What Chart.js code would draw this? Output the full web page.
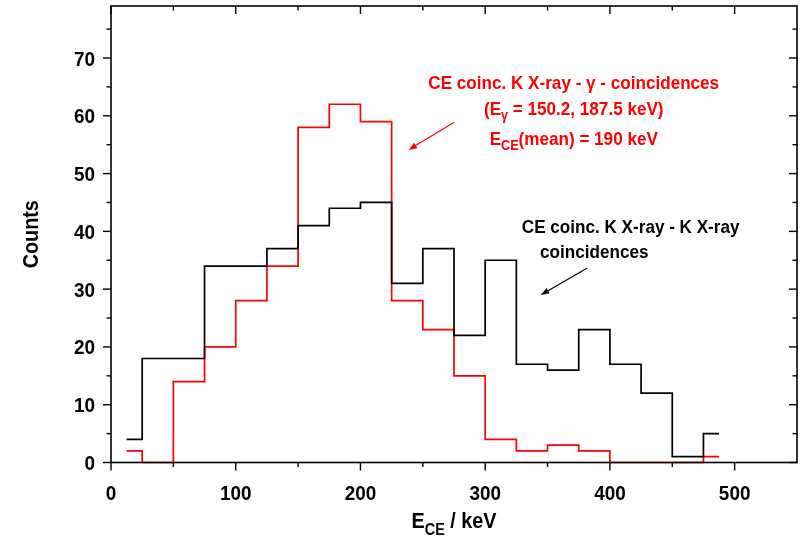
<!DOCTYPE html>
<html>
<head>
<meta charset="utf-8">
<script src="https://cdn.jsdelivr.net/npm/chart.js@4.4.0/dist/chart.umd.min.js"></script>
<style>
  html, body { margin: 0; padding: 0; background: #fff; }
  #wrap { width: 807px; height: 538px; }
</style>
</head>
<body>
<div id="wrap"><canvas id="chart" width="807" height="538"></canvas></div>
<script>
// bin centres in keV (25 keV bins)
const binCentres = [12.5, 37.5, 62.5, 87.5, 112.5, 137.5, 162.5, 187.5, 212.5, 237.5,
                    262.5, 287.5, 312.5, 337.5, 362.5, 387.5, 412.5, 437.5, 462.5, 487.5];
// CE coinc. K X-ray - K X-ray (black)
const kxKxCounts = [4, 18, 18, 34, 34, 37, 41, 44, 45, 31, 37, 22, 35, 17, 16, 23, 17, 12, 1, 5];
// CE coinc. K X-ray - gamma (red)
const kxGammaCounts = [2, 0, 14, 20, 28, 34, 58, 62, 59, 28, 23, 15, 4, 2, 3, 2, 0, 0, 0, 1];

const xMajorTicks = [0, 100, 200, 300, 400, 500];
const xMinorTicks = [50, 150, 250, 350, 450];
const yMajorTicks = [0, 10, 20, 30, 40, 50, 60, 70];
const yMinorTicks = [5, 15, 25, 35, 45, 55, 65, 75];

const FONT = '"Liberation Sans", Arial, sans-serif';
const SQUEEZE = 0.9; // the original lettering is a bit narrow

function pts(ys) {
  return binCentres.map((x, i) => ({ x: x, y: ys[i] }));
}

// draw text made of pieces, some of them subscript
function richText(ctx, parts, x, y, align, size, color) {
  const subSize = Math.round(size * 0.72);
  ctx.save();
  ctx.fillStyle = color;
  ctx.textBaseline = 'alphabetic';
  ctx.textAlign = 'left';
  let w = 0;
  parts.forEach(p => {
    ctx.font = 'bold ' + (p[1] ? subSize : size) + 'px ' + FONT;
    w += ctx.measureText(p[0]).width;
  });
  w *= SQUEEZE;
  let cx = align === 'center' ? x - w / 2 : (align === 'right' ? x - w : x);
  parts.forEach(p => {
    ctx.font = 'bold ' + (p[1] ? subSize : size) + 'px ' + FONT;
    const dy = p[1] ? size * 0.3 : 0;
    ctx.save();
    ctx.translate(cx, y + dy);
    ctx.scale(SQUEEZE, 1);
    ctx.fillText(p[0], 0, 0);
    ctx.restore();
    cx += ctx.measureText(p[0]).width * SQUEEZE;
  });
  ctx.restore();
}

function arrow(ctx, x1, y1, x2, y2, color, lw, head) {
  const a = Math.atan2(y2 - y1, x2 - x1);
  ctx.save();
  ctx.strokeStyle = color;
  ctx.fillStyle = color;
  ctx.lineWidth = lw;
  ctx.beginPath();
  ctx.moveTo(x1, y1);
  ctx.lineTo(x2 - Math.cos(a) * head * 0.6, y2 - Math.sin(a) * head * 0.6);
  ctx.stroke();
  ctx.beginPath();
  ctx.moveTo(x2, y2);
  ctx.lineTo(x2 - head * Math.cos(a - 0.35), y2 - head * Math.sin(a - 0.35));
  ctx.lineTo(x2 - head * Math.cos(a + 0.35), y2 - head * Math.sin(a + 0.35));
  ctx.closePath();
  ctx.fill();
  ctx.restore();
}

const framePlugin = {
  id: 'frame',
  afterDraw(chart) {
    const ctx = chart.ctx;
    const xs = chart.scales.x, ys = chart.scales.y;
    const { left, right, top, bottom } = chart.chartArea;
    ctx.save();
    ctx.strokeStyle = '#000';
    ctx.lineWidth = 1.6;
    ctx.strokeRect(left, top, right - left, bottom - top);
    ctx.lineWidth = 1.4;
    const seg = (a, b, c, d) => { ctx.beginPath(); ctx.moveTo(a, b); ctx.lineTo(c, d); ctx.stroke(); };
    xMajorTicks.forEach(v => { const p = xs.getPixelForValue(v); seg(p, bottom, p, bottom + 8); seg(p, top, p, top + 8); });
    xMinorTicks.forEach(v => { const p = xs.getPixelForValue(v); seg(p, bottom, p, bottom + 4.5); seg(p, top, p, top + 4.5); });
    yMajorTicks.forEach(v => { const p = ys.getPixelForValue(v); seg(left - 8, p, left, p); seg(right - 8, p, right, p); });
    yMinorTicks.forEach(v => { const p = ys.getPixelForValue(v); seg(left - 4.5, p, left, p); seg(right - 4.5, p, right, p); });

    // tick labels
    xMajorTicks.forEach(v => richText(ctx, [[String(v), false]], xs.getPixelForValue(v), bottom + 37, 'center', 21, '#000'));
    yMajorTicks.forEach(v => richText(ctx, [[String(v), false]], left - 16, ys.getPixelForValue(v) + 7.5, 'right', 21, '#000'));

    // axis titles
    richText(ctx, [['E', false], ['CE', true], [' / keV', false]], (left + right) / 2, 528, 'center', 22, '#000');
    ctx.save();
    ctx.translate(38, (top + bottom) / 2);
    ctx.rotate(-Math.PI / 2);
    richText(ctx, [['Counts', false]], 0, 0, 'center', 22, '#000');
    ctx.restore();

    // annotations, anchored in data units
    const X = v => xs.getPixelForValue(v), Y = v => ys.getPixelForValue(v);
    const red = '#ff0000';
    richText(ctx, [['CE coinc. K X-ray - \u03b3 - coincidences', false]], X(371), Y(64.7), 'center', 19, red);
    richText(ctx, [['(E', false], ['\u03b3', true], [' = 150.2, 187.5 keV)', false]], X(371), Y(60.2), 'center', 19, red);
    richText(ctx, [['E', false], ['CE', true], ['(mean) = 190 keV', false]], X(371), Y(55.0), 'center', 19, red);
    arrow(ctx, X(275.2), Y(58.9), X(238.6), Y(54.1), red, 1.2, 9);

    richText(ctx, [['CE coinc. K X-ray - K X-ray', false]], X(329.4), Y(39.8), 'left', 19, '#000');
    richText(ctx, [['coincidences', false]], X(344), Y(35.4), 'left', 19, '#000');
    arrow(ctx, X(381.9), Y(33.65), X(344.6), Y(29.0), '#000', 1.2, 9);
    ctx.restore();
  }
};

const ctx = document.getElementById('chart').getContext('2d');
const chart = new Chart(ctx, {
  type: 'line',
  data: {
    datasets: [
      {
        label: 'CE coinc. K X-ray - K X-ray coincidences',
        data: pts(kxKxCounts),
        borderColor: '#000000',
        borderWidth: 1.7,
        stepped: 'middle',
        pointRadius: 0,
        fill: false,
        clip: false,
        order: 0
      },
      {
        label: 'CE coinc. K X-ray - gamma - coincidences',
        data: pts(kxGammaCounts),
        borderColor: '#ff0000',
        borderWidth: 1.7,
        stepped: 'middle',
        pointRadius: 0,
        fill: false,
        clip: false,
        order: 1
      }
    ]
  },
  options: {
    responsive: false,
    animation: false,
    layout: { padding: { top: 6, right: 10, left: 0, bottom: 0 } },
    plugins: { legend: { display: false }, tooltip: { enabled: false } },
    scales: {
      x: {
        type: 'linear',
        min: 0,
        max: 550,
        grid: { display: false },
        border: { display: false },
        ticks: { display: false },
        afterFit: s => { s.height = 75.5; }
      },
      y: {
        min: 0,
        max: 79,
        grid: { display: false },
        border: { display: false },
        ticks: { display: false },
        afterFit: s => { s.width = 111; }
      }
    }
  },
  plugins: [framePlugin]
});
</script>
</body>
</html>
